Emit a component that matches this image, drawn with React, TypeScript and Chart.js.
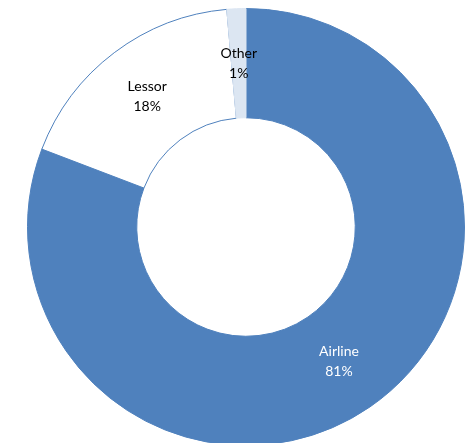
import React, { useEffect, useRef } from "react";
import { Chart, registerables } from "chart.js";

Chart.register(...registerables);

const categories = ["Airline", "Lessor", "Other"];
const shares = [80.8, 17.8, 1.4];
const sliceColors = ["#4F81BD", "#FFFFFF", "#DCE6F2"];
const sliceBorders = ["#4F81BD", "#4F81BD", "#DCE6F2"];
const labelColors = ["#FFFFFF", "#000000", "#000000"];

const labelPlugin = {
  id: "sliceLabels",
  afterDatasetsDraw(chart: any) {
    const ctx = chart.ctx;
    const meta = chart.getDatasetMeta(0);
    ctx.save();
    ctx.font = "14px Lato, 'Liberation Sans', sans-serif";
    ctx.textAlign = "center";
    ctx.textBaseline = "middle";
    meta.data.forEach((arc: any, i: number) => {
      const p = arc.tooltipPosition();
      ctx.fillStyle = labelColors[i];
      ctx.fillText(categories[i], p.x, p.y - 10);
      ctx.fillText(Math.round(shares[i]) + "%", p.x, p.y + 10);
    });
    ctx.restore();
  },
};

export default function App() {
  const ref = useRef<HTMLCanvasElement>(null);
  useEffect(() => {
    if (!ref.current) return;
    const chart = new Chart(ref.current, {
      type: "doughnut",
      data: {
        labels: categories,
        datasets: [
          {
            data: shares,
            backgroundColor: sliceColors,
            borderColor: sliceBorders,
            borderWidth: 1,
          },
        ],
      },
      options: {
        responsive: false,
        animation: false,
        cutout: "50%",
        layout: { padding: { left: 27, right: 7, top: 8, bottom: 8 } },
        plugins: {
          legend: { display: false },
          tooltip: { enabled: false },
        },
      },
      plugins: [labelPlugin],
    });
    return () => chart.destroy();
  }, []);
  return (
    <div
      style={{
        position: "fixed",
        left: 0,
        top: 0,
        width: 472,
        height: 443,
        overflow: "hidden",
        background: "#fff",
      }}
    >
      <canvas ref={ref} width={472} height={454} style={{ display: "block" }} />
    </div>
  );
}
